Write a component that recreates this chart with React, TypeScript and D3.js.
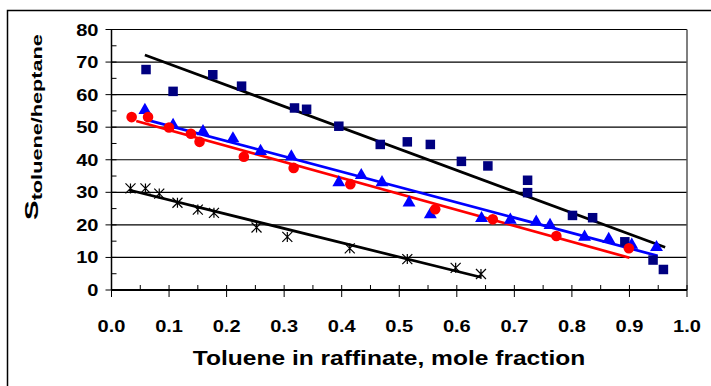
import React, { useEffect, useRef } from 'react';
import * as d3 from 'd3';

// Series 1: navy squares
const squareX = [0.06, 0.107, 0.176, 0.226, 0.318, 0.339, 0.395, 0.467, 0.514, 0.554, 0.608, 0.654, 0.723, 0.723, 0.801, 0.836, 0.892, 0.941, 0.959];
const squareY = [67.7, 61.0, 66.1, 62.6, 55.9, 55.5, 50.3, 44.7, 45.5, 44.7, 39.5, 38.1, 33.7, 29.9, 22.9, 22.2, 14.8, 9.2, 6.3];

// Series 2: blue triangles
const triangleX = [0.058, 0.107, 0.159, 0.211, 0.259, 0.3125, 0.395, 0.434, 0.47, 0.517, 0.554, 0.643, 0.693, 0.738, 0.762, 0.822, 0.864, 0.904, 0.947];
const triangleY = [55.2, 50.6, 48.7, 46.5, 42.6, 40.9, 33.0, 35.2, 33.0, 26.8, 23.2, 22.0, 21.5, 20.9, 19.9, 16.3, 15.6, 13.8, 13.1];

// Series 3: red circles
const circleX = [0.035, 0.0635, 0.1, 0.138, 0.153, 0.23, 0.3165, 0.415, 0.5625, 0.6625, 0.773, 0.899];
const circleY = [53.1, 53.1, 49.9, 48.0, 45.5, 40.9, 37.5, 32.5, 24.8, 21.7, 16.6, 12.8];

// Series 4: black asterisks
const starX = [0.033, 0.059, 0.083, 0.1146, 0.15, 0.178, 0.252, 0.3055, 0.414, 0.514, 0.598, 0.642];
const starY = [31.2, 31.2, 29.6, 26.8, 24.7, 23.7, 19.2, 16.3, 12.8, 9.5, 6.8, 4.9];

// Trend lines [x0, y0, x1, y1] in data units
const squareFit = [0.058, 72.2, 0.962, 13.1];
const triangleFit = [0.058, 52.4, 0.949, 10.5];
const circleFit = [0.043, 51.9, 0.9, 9.9];
const starFit = [0.0306, 30.7, 0.642, 3.9];

const xTicks = [0, 0.1, 0.2, 0.3, 0.4, 0.5, 0.6, 0.7, 0.8, 0.9, 1.0];
const yTicks = [0, 10, 20, 30, 40, 50, 60, 70, 80];

const App: React.FC = () => {
  const ref = useRef<SVGSVGElement>(null);

  useEffect(() => {
    if (!ref.current) return;
    const svg = d3.select(ref.current);
    svg.selectAll('*').remove();

    const left = 111.5, right = 687, top = 29.5, bottom = 290;
    const x = d3.scaleLinear().domain([0, 1]).range([left, right]);
    const y = d3.scaleLinear().domain([0, 80]).range([bottom, top]);
    const font = "'Liberation Sans', Arial, sans-serif";
    const stretch = 1.18; // text in the reference is wider than plain Arial

    svg.append('rect').attr('width', 711).attr('height', 386).attr('fill', '#fff');
    // outer frame
    svg.append('rect')
      .attr('x', 7.5).attr('y', 10.5).attr('width', 720).attr('height', 400)
      .attr('fill', 'none').attr('stroke', '#000').attr('stroke-width', 1.5);

    // gridlines
    svg.append('g')
      .selectAll('line')
      .data(yTicks.filter(t => t > 0))
      .enter().append('line')
      .attr('x1', left).attr('x2', right)
      .attr('y1', d => y(d)).attr('y2', d => y(d))
      .attr('stroke', '#000').attr('stroke-width', 1.2);

    // plot right border
    svg.append('line')
      .attr('x1', right).attr('x2', right).attr('y1', top).attr('y2', bottom)
      .attr('stroke', '#555').attr('stroke-width', 1.5);

    // axes lines
    svg.append('line').attr('x1', left).attr('x2', left).attr('y1', top).attr('y2', bottom)
      .attr('stroke', '#000').attr('stroke-width', 1.5);
    svg.append('line').attr('x1', left).attr('x2', right).attr('y1', bottom).attr('y2', bottom)
      .attr('stroke', '#000').attr('stroke-width', 2);

    // y ticks
    const yMinor = d3.range(5, 80, 10);
    svg.append('g').selectAll('line').data(yTicks).enter().append('line')
      .attr('x1', left - 6).attr('x2', left + 5)
      .attr('y1', d => y(d)).attr('y2', d => y(d))
      .attr('stroke', '#000').attr('stroke-width', 1);
    svg.append('g').selectAll('line').data(yMinor).enter().append('line')
      .attr('x1', left).attr('x2', left + 5)
      .attr('y1', d => y(d)).attr('y2', d => y(d))
      .attr('stroke', '#000').attr('stroke-width', 1);

    // x ticks
    const xMinor = d3.range(0.05, 1, 0.1);
    svg.append('g').selectAll('line').data(xTicks).enter().append('line')
      .attr('x1', d => x(d)).attr('x2', d => x(d))
      .attr('y1', bottom - 5).attr('y2', bottom + 7)
      .attr('stroke', '#000').attr('stroke-width', 1);
    svg.append('g').selectAll('line').data(xMinor).enter().append('line')
      .attr('x1', d => x(d)).attr('x2', d => x(d))
      .attr('y1', bottom - 5).attr('y2', bottom)
      .attr('stroke', '#000').attr('stroke-width', 1);

    // tick labels
    svg.append('g').selectAll('text').data(yTicks).enter().append('text')
      .attr('transform', d => `translate(${left - 13},${y(d) + 6}) scale(${stretch},1)`)
      .attr('text-anchor', 'end')
      .attr('font-family', font).attr('font-weight', 'bold').attr('font-size', 17)
      .text(d => d);
    svg.append('g').selectAll('text').data(xTicks).enter().append('text')
      .attr('transform', d => `translate(${x(d)},332) scale(${stretch},1)`)
      .attr('text-anchor', 'middle')
      .attr('font-family', font).attr('font-weight', 'bold').attr('font-size', 17)
      .text(d => d.toFixed(1));

    // axis titles
    svg.append('text')
      .attr('transform', `translate(389,365) scale(1.17,1)`)
      .attr('text-anchor', 'middle')
      .attr('font-family', font).attr('font-weight', 'bold').attr('font-size', 21)
      .text('Toluene in raffinate, mole fraction');

    const yt = svg.append('text')
      .attr('transform', `translate(38,220) rotate(-90) scale(1.55,1)`)
      .attr('font-family', font).attr('font-weight', 'bold');
    yt.append('tspan').attr('font-size', 19).text('S');
    yt.append('tspan').attr('font-size', 14).attr('dy', 4).text('toluene/heptane');

    // trend lines
    const fits: [number[], string][] = [
      [squareFit, '#000'], [triangleFit, '#0000ff'], [circleFit, '#ff0000'], [starFit, '#000'],
    ];
    fits.forEach(([f, c]) => {
      svg.append('line')
        .attr('x1', x(f[0])).attr('y1', y(f[1]))
        .attr('x2', x(f[2])).attr('y2', y(f[3]))
        .attr('stroke', c).attr('stroke-width', 2.7);
    });

    // markers
    const squares = squareX.map((v, i) => [v, squareY[i]]);
    svg.append('g').selectAll('rect').data(squares).enter().append('rect')
      .attr('x', d => x(d[0]) - 4.75).attr('y', d => y(d[1]) - 4.75)
      .attr('width', 9.5).attr('height', 9.5)
      .attr('fill', '#000080');

    const tris = triangleX.map((v, i) => [v, triangleY[i]]);
    const triPath = d3.symbol().type(d3.symbolTriangle).size(72)();
    svg.append('g').selectAll('path').data(tris).enter().append('path')
      .attr('d', triPath)
      .attr('transform', d => `translate(${x(d[0])},${y(d[1])})`)
      .attr('fill', '#0000ff');

    const circles = circleX.map((v, i) => [v, circleY[i]]);
    svg.append('g').selectAll('circle').data(circles).enter().append('circle')
      .attr('cx', d => x(d[0])).attr('cy', d => y(d[1]))
      .attr('r', 5.3)
      .attr('fill', '#ff0000');

    const stars = starX.map((v, i) => [v, starY[i]]);
    const s = 5;
    svg.append('g').selectAll('path').data(stars).enter().append('path')
      .attr('d', `M${-s},${-s}L${s},${s}M${-s},${s}L${s},${-s}M0,${-s}L0,${s}`)
      .attr('transform', d => `translate(${x(d[0])},${y(d[1])})`)
      .attr('stroke', '#000').attr('stroke-width', 1.2).attr('fill', 'none');
  }, []);

  return (
    <svg
      ref={ref}
      width={711}
      height={386}
      style={{ position: 'absolute', left: 0, top: 0, display: 'block' }}
    />
  );
};

export default App;
